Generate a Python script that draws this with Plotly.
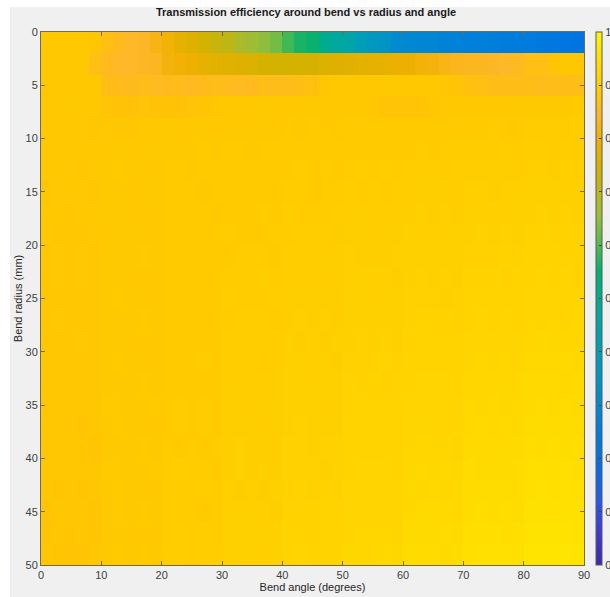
import plotly.graph_objects as go

# Bend angle cell centres (degrees) and bend radius cell centres (mm)
angles = list(range(1, 90, 2))
radii = list(range(1, 50, 2))

# Transmission efficiency, one row per bend radius (top row = smallest radius)
eff_r01 = [.88, .88, .88, .88, .875, .86, .855, .85, .845, .825, .81, .78, .765, .745, .72, .70,
           .675, .66, .645, .625, .59, .565, .555, .50, .47, .45, .40, .37, .35, .31, .30, .295,
           .29, .28, .275, .27, .265, .26, .255, .25, .245, .235, .23, .225, .215]
eff_r03 = [.88, .88, .88, .88, .86, .855, .85, .85, .845, .84, .815, .805, .80, .78, .775, .77,
           .765, .76, .75, .745, .745, .75, .75, .76, .765, .77, .775, .78, .785, .79, .795, .81,
           .815, .83, .835, .84, .84, .845, .85, .855, .86, .86, .87, .875, .875]
eff_r05 = [.880, .881, .880, .879, .880,
           .858, .856, .855, .857, .854, .855, .856, .853, .855, .857, .856, .854, .855, .858, .856, .857, .859, .862,
           .874, .879, .880, .882, .881, .883, .882, .881, .880, .879, .874, .870,
           .862, .860, .858, .859, .857, .858, .856, .857, .858, .859]
eff_r07 = [.881, .880, .882, .881, .879,
           .870, .866, .865, .867, .866, .868, .866, .867, .872,
           .878, .880, .881, .879, .882, .880, .881, .883, .882, .880, .881, .882, .880, .879,
           .872, .870, .869, .871,
           .878, .880, .881, .882, .880, .883, .881, .882, .884, .883, .882, .884, .885]
eff_r09 = [.880, .881, .880, .879, .878, .880, .878, .874, .880, .881, .882, .881, .883, .882, .881,
           .882, .884, .883, .882, .884, .885, .884, .886, .885, .884, .886, .887, .886, .888, .887,
           .886, .889, .888, .890, .889, .891, .890, .892, .891, .890, .893, .892, .894, .893, .895]
eff_r11 = [.880, .879, .881, .880, .879, .881, .882, .880, .883, .882, .883, .884, .882, .885, .884,
           .885, .886, .884, .887, .886, .887, .888, .886, .889, .888, .889, .890, .888, .891, .890,
           .891, .892, .890, .893, .892, .893, .894, .892, .895, .894, .895, .896, .894, .897, .898]
eff_r13 = [.881, .879, .880, .878, .881, .882, .885, .883, .884, .881, .885, .886, .884, .887, .885,
           .889, .887, .888, .886, .889, .890, .893, .891, .892, .889, .894, .895, .893, .896, .894,
           .897, .895, .896, .894, .897, .898, .901, .899, .900, .897, .902, .903, .901, .904, .902]
eff_r15 = [.878, .881, .879, .880, .877, .882, .883, .881, .884, .882, .887, .885, .886, .884, .887,
           .888, .891, .889, .890, .887, .892, .893, .891, .894, .892, .896, .894, .895, .893, .896,
           .898, .901, .899, .900, .897, .902, .903, .901, .904, .902, .906, .904, .905, .903, .906]
eff_r17 = [.879, .880, .878, .881, .879, .884, .882, .883, .881, .884, .885, .888, .886, .887, .884,
           .890, .891, .889, .892, .890, .895, .893, .894, .892, .895, .896, .899, .897, .898, .895,
           .901, .902, .900, .903, .901, .905, .903, .904, .902, .905, .907, .910, .908, .909, .906]
eff_r19 = [.879, .877, .878, .876, .879, .881, .884, .882, .883, .880, .887, .888, .886, .889, .887,
           .892, .890, .891, .889, .892, .894, .897, .895, .896, .893, .899, .900, .898, .901, .899,
           .905, .903, .904, .902, .905, .907, .910, .908, .909, .906, .912, .913, .911, .914, .912]
eff_r21 = [.877, .880, .878, .879, .876, .883, .884, .882, .885, .883, .888, .886, .887, .885, .888,
           .891, .894, .892, .893, .890, .897, .898, .896, .899, .897, .902, .900, .901, .899, .902,
           .905, .908, .906, .907, .904, .910, .911, .909, .912, .910, .916, .914, .915, .913, .916]
eff_r23 = [.878, .879, .877, .880, .878, .884, .882, .883, .881, .884, .887, .890, .888, .889, .886,
           .893, .894, .892, .895, .893, .899, .897, .898, .896, .899, .902, .905, .903, .904, .901,
           .908, .909, .907, .910, .908, .914, .912, .913, .911, .914, .917, .920, .918, .919, .916]
eff_r25 = [.878, .876, .877, .875, .878, .882, .885, .883, .884, .881, .888, .889, .887, .890, .888,
           .895, .893, .894, .892, .895, .898, .901, .899, .900, .897, .905, .906, .904, .907, .905,
           .911, .909, .910, .908, .911, .915, .918, .916, .917, .914, .921, .922, .920, .923, .921]
eff_r27 = [.876, .879, .877, .878, .875, .883, .884, .882, .885, .883, .890, .888, .889, .887, .890,
           .894, .897, .895, .896, .893, .901, .902, .900, .903, .901, .907, .905, .906, .904, .907,
           .911, .914, .912, .913, .910, .918, .919, .917, .920, .918, .925, .923, .924, .922, .925]
eff_r29 = [.877, .878, .876, .879, .877, .884, .882, .883, .881, .884, .888, .891, .889, .890, .887,
           .896, .897, .895, .898, .896, .903, .901, .902, .900, .903, .907, .910, .908, .909, .906,
           .914, .915, .913, .916, .914, .922, .920, .921, .919, .922, .926, .929, .927, .928, .925]
eff_r31 = [.877, .875, .876, .874, .877, .882, .885, .883, .884, .881, .890, .891, .889, .892, .890,
           .897, .895, .896, .894, .897, .902, .905, .903, .904, .901, .910, .911, .909, .912, .910,
           .918, .916, .917, .915, .918, .922, .925, .923, .924, .921, .930, .931, .929, .932, .930]
eff_r33 = [.875, .878, .876, .877, .874, .883, .884, .882, .885, .883, .891, .889, .890, .888, .891,
           .896, .899, .897, .898, .895, .905, .906, .904, .907, .905, .913, .911, .912, .910, .913,
           .918, .921, .919, .920, .917, .926, .927, .925, .928, .926, .934, .932, .933, .931, .934]
eff_r35 = [.876, .877, .875, .878, .876, .885, .883, .884, .882, .885, .890, .893, .891, .892, .889,
           .899, .900, .898, .901, .899, .907, .905, .906, .904, .907, .913, .916, .914, .915, .912,
           .921, .922, .920, .923, .921, .930, .928, .929, .927, .930, .935, .938, .936, .937, .934]
eff_r37 = [.876, .874, .875, .873, .876, .882, .885, .883, .884, .881, .891, .892, .890, .893, .891,
           .900, .898, .899, .897, .900, .906, .909, .907, .908, .905, .915, .916, .914, .917, .915,
           .924, .922, .923, .921, .924, .930, .933, .931, .932, .929, .939, .940, .938, .941, .939]
eff_r39 = [.874, .877, .875, .876, .873, .883, .884, .882, .885, .883, .893, .891, .892, .890, .893,
           .899, .902, .900, .901, .898, .909, .910, .908, .911, .909, .918, .916, .917, .915, .918,
           .924, .927, .925, .926, .923, .934, .935, .933, .936, .934, .943, .941, .942, .940, .943]
eff_r41 = [.875, .876, .874, .877, .875, .885, .883, .884, .882, .885, .892, .895, .893, .894, .891,
           .901, .902, .900, .903, .901, .911, .909, .910, .908, .911, .918, .921, .919, .920, .917,
           .928, .929, .927, .930, .928, .937, .935, .936, .934, .937, .944, .947, .945, .946, .943]
eff_r43 = [.875, .873, .874, .872, .875, .882, .885, .883, .884, .881, .893, .894, .892, .895, .893,
           .903, .901, .902, .900, .903, .910, .913, .911, .912, .909, .920, .921, .919, .922, .920,
           .930, .928, .929, .927, .930, .938, .941, .939, .940, .937, .948, .949, .947, .950, .948]
eff_r45 = [.873, .876, .874, .875, .872, .884, .885, .883, .886, .884, .894, .892, .893, .891, .894,
           .902, .905, .903, .904, .901, .913, .914, .912, .915, .913, .923, .921, .922, .920, .923,
           .931, .934, .932, .933, .930, .941, .942, .940, .943, .941, .952, .950, .951, .949, .952]
eff_r47 = [.873, .874, .872, .875, .873, .884, .882, .883, .881, .884, .893, .896, .894, .895, .892,
           .904, .905, .903, .906, .904, .915, .913, .914, .912, .915, .923, .926, .924, .925, .922,
           .935, .936, .934, .937, .935, .946, .944, .945, .943, .946, .954, .957, .955, .956, .953]
eff_r49 = [.874, .872, .873, .871, .874, .883, .886, .884, .885, .882, .895, .896, .894, .897, .895,
           .907, .905, .906, .904, .907, .916, .919, .917, .918, .915, .927, .928, .926, .929, .927,
           .939, .937, .938, .936, .939, .948, .951, .949, .950, .947, .960, .961, .959, .962, .960]

efficiency = [eff_r01, eff_r03, eff_r05, eff_r07, eff_r09, eff_r11, eff_r13, eff_r15, eff_r17,
              eff_r19, eff_r21, eff_r23, eff_r25, eff_r27, eff_r29, eff_r31, eff_r33, eff_r35,
              eff_r37, eff_r39, eff_r41, eff_r43, eff_r45, eff_r47, eff_r49]
assert len(efficiency) == len(radii)
for row in efficiency:
    assert len(row) == len(angles), len(row)

x_ticks = list(range(0, 91, 10))
y_ticks = list(range(0, 51, 5))
cbar_ticks = [0, 0.1, 0.2, 0.3, 0.4, 0.5, 0.6, 0.7, 0.8, 0.9, 1]

# Vivid parula-like colormap
colorscale = [
    [0.00, "rgb(62,38,168)"],
    [0.06, "rgb(66,56,210)"],
    [0.12, "rgb(36,90,235)"],
    [0.20, "rgb(0,114,226)"],
    [0.25, "rgb(0,124,221)"],
    [0.30, "rgb(0,136,210)"],
    [0.35, "rgb(0,148,196)"],
    [0.40, "rgb(0,158,182)"],
    [0.47, "rgb(0,168,160)"],
    [0.55, "rgb(0,176,112)"],
    [0.60, "rgb(80,186,80)"],
    [0.65, "rgb(150,190,60)"],
    [0.70, "rgb(190,182,20)"],
    [0.75, "rgb(214,178,0)"],
    [0.80, "rgb(240,176,0)"],
    [0.85, "rgb(255,184,40)"],
    [0.865, "rgb(255,194,8)"],
    [0.88, "rgb(255,200,0)"],
    [0.92, "rgb(255,212,0)"],
    [0.96, "rgb(255,228,0)"],
    [1.00, "rgb(250,248,10)"],
]

W, H = 610, 597
L, R, T, B = 41, 26, 32, 32
pw, ph = W - L - R, H - T - B

font_family = "Liberation Sans, Arial, sans-serif"
axis_line = "#6e6a55"
tick_font = dict(family=font_family, size=11, color="#404040")

fig = go.Figure(
    go.Heatmap(
        x=angles,
        y=radii,
        z=efficiency,
        zmin=0,
        zmax=1,
        colorscale=colorscale,
        colorbar=dict(
            thickness=6,
            len=1,
            lenmode="fraction",
            x=1 + 12 / pw,
            xanchor="left",
            y=0.5,
            yanchor="middle",
            outlinecolor="#5a5a5a",
            outlinewidth=1,
            tickvals=cbar_ticks,
            ticks="inside",
            ticklen=3,
            tickcolor="#404040",
            tickfont=tick_font,
            xpad=0,
            ypad=0,
        ),
        hoverongaps=False,
    )
)

fig.update_layout(
    width=W,
    height=H,
    margin=dict(l=L, r=R, t=T, b=B, autoexpand=False),
    paper_bgcolor="white",
    plot_bgcolor="#f0f0f0",
    title=dict(
        text="<b>Transmission efficiency around bend vs radius and angle</b>",
        font=dict(family=font_family, size=11, color="#1a1a1a"),
        x=306 / W,
        xref="container",
        xanchor="center",
        y=1 - 12 / H,
        yref="container",
        yanchor="middle",
    ),
    xaxis=dict(
        range=[0, 90],
        tickvals=x_ticks,
        ticks="inside",
        ticklen=4,
        tickcolor=axis_line,
        showline=True,
        linecolor=axis_line,
        linewidth=1,
        mirror="ticks",
        showgrid=False,
        zeroline=False,
        tickfont=tick_font,
        title=dict(text="Bend angle (degrees)", font=dict(family=font_family, size=11, color="#262626"), standoff=2),
        automargin=False,
    ),
    yaxis=dict(
        range=[50, 0],
        tickvals=y_ticks,
        ticks="inside",
        ticklen=4,
        tickcolor=axis_line,
        showline=True,
        linecolor=axis_line,
        linewidth=1,
        mirror="ticks",
        showgrid=False,
        zeroline=False,
        tickfont=tick_font,
        title=dict(text="Bend radius (mm)", font=dict(family=font_family, size=11, color="#262626"), standoff=0),
        automargin=False,
    ),
    shapes=[
        # grey figure window behind the axes
        dict(
            type="rect",
            xref="paper",
            yref="paper",
            x0=(10 - L) / pw,
            x1=(W - L) / pw,
            y0=-B / ph,
            y1=1 + (T - 7) / ph,
            fillcolor="#f0f0f0",
            line=dict(width=0),
            layer="below",
        )
    ],
)

fig.write_html("out.html")
